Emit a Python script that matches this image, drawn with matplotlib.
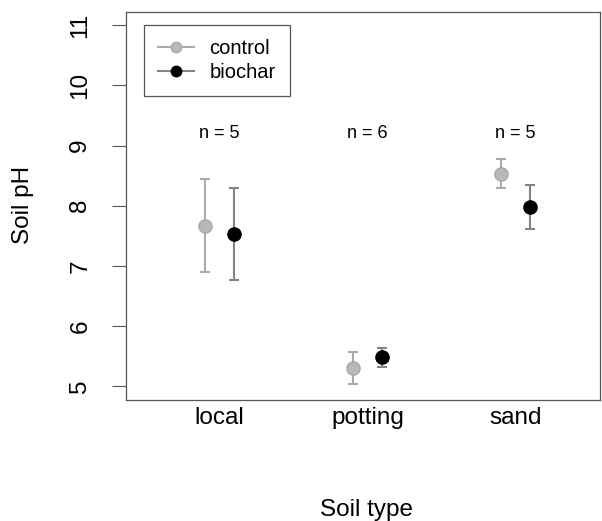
import matplotlib.pyplot as plt
import numpy as np

plt.rcParams['font.family'] = ['Liberation Sans', 'DejaVu Sans']

# Data
soil_types = ["local", "potting", "sand"]
n_labels = ["n = 5", "n = 6", "n = 5"]
control_mean = [7.67, 5.30, 8.53]
control_err = [0.78, 0.27, 0.24]
biochar_mean = [7.53, 5.48, 7.98]
biochar_err = [0.76, 0.16, 0.37]

x = np.arange(1, len(soil_types) + 1)
offset = 0.1

W, H = 602, 521
fig = plt.figure(figsize=(W / 100, H / 100), dpi=100)
ax = fig.add_axes([126 / W, 121 / H, 474 / W, 388 / H])

ax.errorbar(x - offset, control_mean, yerr=control_err, fmt='none',
            ecolor='#ababab', elinewidth=1.5, capsize=3.6, capthick=1.5, zorder=2)
ax.errorbar(x + offset, biochar_mean, yerr=biochar_err, fmt='none',
            ecolor='#858585', elinewidth=1.5, capsize=3.6, capthick=1.5, zorder=2)
ax.plot(x - offset, control_mean, 'o', color='#b8b8b8', markeredgecolor='#a8a8a8',
        markersize=9.5, zorder=3)
ax.plot(x + offset, biochar_mean, 'o', color='black', markersize=9.5, zorder=3)

for xi, lab in zip(x, n_labels):
    ax.text(xi, 9.2, lab, ha='center', va='center', fontsize=13)

ax.set_xlim(0.37, 3.57)
ax.set_ylim(4.77, 11.22)
ax.set_xticks(x)
ax.set_xticklabels(soil_types, fontsize=17.5)
ax.tick_params(axis='x', length=0, pad=5)
ax.set_yticks(range(5, 12))
ax.set_yticklabels([str(v) for v in range(5, 12)], rotation=90, va='center', fontsize=17.5)
ax.tick_params(axis='y', length=10, width=0.8, color='#555555', pad=15)
for s in ax.spines.values():
    s.set_color('#555555')
    s.set_linewidth(0.9)

# axis titles placed in figure pixels, as in the reference
fig.text(366 / W, 1 - 510 / H, "Soil type", ha='center', va='center', fontsize=17.5)
fig.text(23 / W, 1 - 205 / H, "Soil pH", ha='center', va='center', rotation=90,
         fontsize=17.5)

h1, = ax.plot([], [], '-o', color='#ababab', markerfacecolor='#b8b8b8',
              markeredgecolor='#a8a8a8', markersize=7.5)
h2, = ax.plot([], [], '-o', color='#858585', markerfacecolor='black',
              markeredgecolor='black', markersize=7.5)
leg = ax.legend([h1, h2], ["control", "biochar"], loc='upper left', fontsize=14.5,
                bbox_to_anchor=(18 / 474, 1 - 13 / 388), borderaxespad=0,
                fancybox=False, edgecolor='#555555', framealpha=1,
                handlelength=1.8, handletextpad=0.75,
                labelspacing=0.25, borderpad=0.7)
leg.get_frame().set_linewidth(0.9)

fig.savefig("out.png", dpi=100)
